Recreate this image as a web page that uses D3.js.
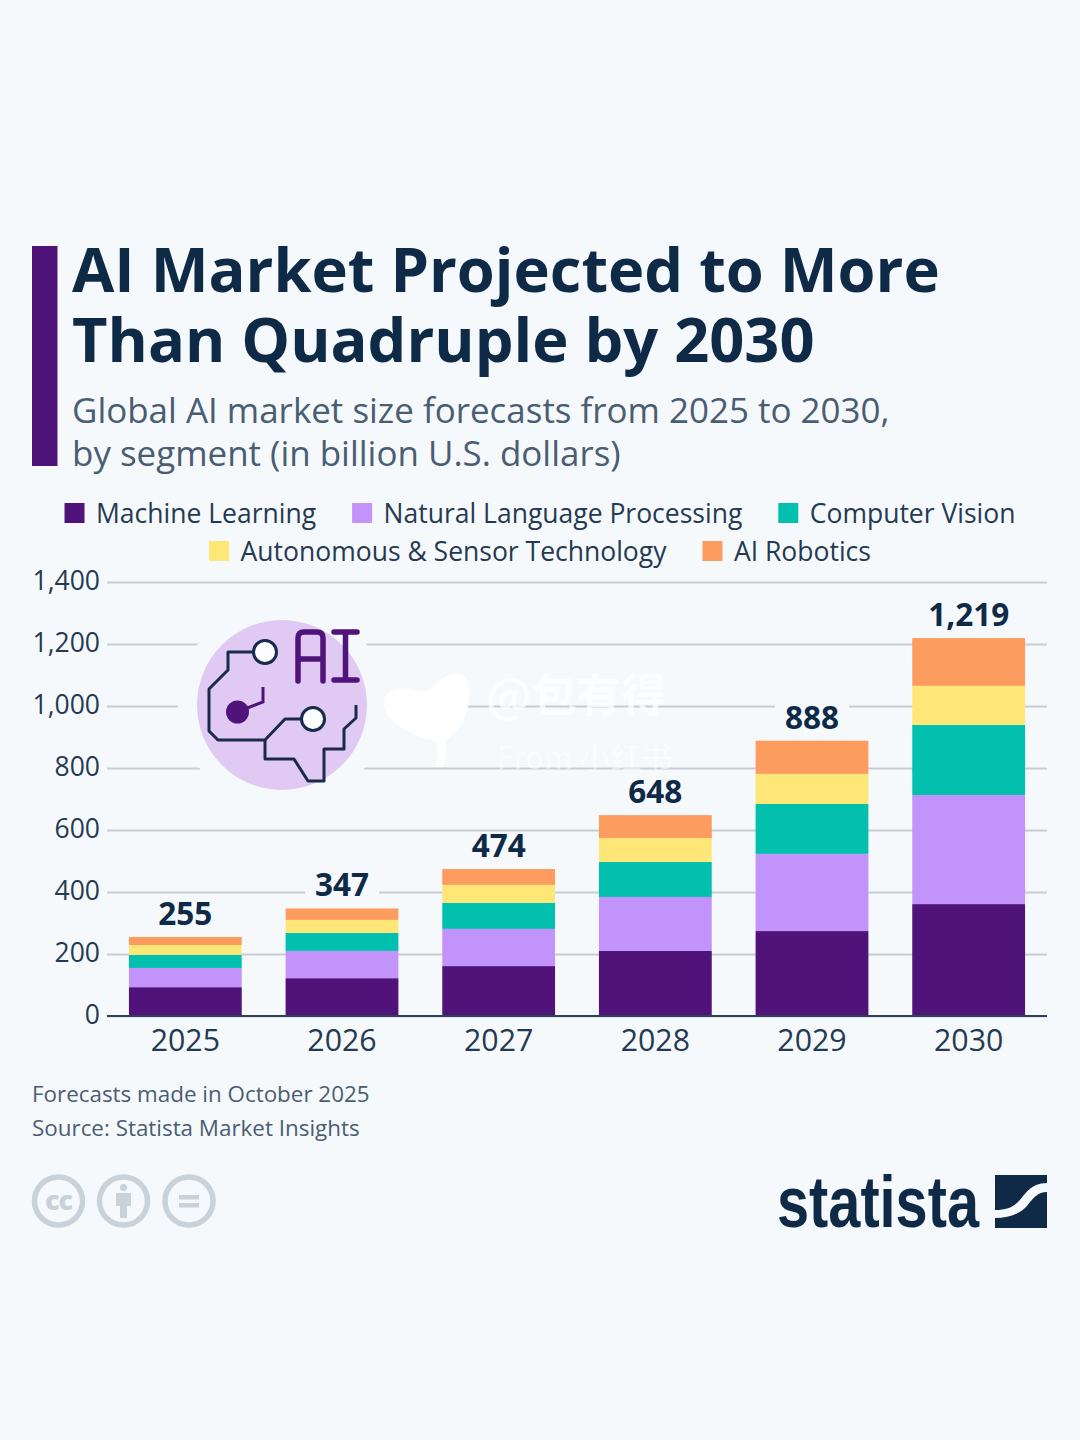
<!DOCTYPE html>
<html lang="en">
<head>
<meta charset="utf-8">
<title>AI Market Projected to More Than Quadruple by 2030</title>
<script src="https://cdn.jsdelivr.net/npm/d3@7/dist/d3.min.js"></script>
<style>
  html, body { margin: 0; padding: 0; background: #f5f9fc; }
  svg { display: block; font-family: "Open Sans", sans-serif; }
</style>
</head>
<body>
<svg id="chart" width="1080" height="1440"></svg>
<script>
// Forecast values in billion U.S. dollars, one list per segment
const years = ["2025", "2026", "2027", "2028", "2029", "2030"];
const machineLearning = [93, 122, 161, 210, 274, 361];
const naturalLanguage = [62, 88, 120, 174, 249, 352];
const computerVision = [42, 58, 84, 113, 161, 226];
const autonomousSensor = [32, 42, 58, 77, 97, 126];
const aiRobotics = [26, 37, 51, 74, 107, 154];
const totals = [255, 347, 474, 648, 888, 1219];
const segmentNames = ["Machine Learning", "Natural Language Processing", "Computer Vision", "Autonomous & Sensor Technology", "AI Robotics"];
const segmentColors = ["#4f1379", "#c193fb", "#03bfae", "#fee777", "#fd9c5f"];
const yTicks = [0, 200, 400, 600, 800, 1000, 1200, 1400];
const legendRows = [[0, 1, 2], [3, 4]];
const titleLines = ["AI Market Projected to More", "Than Quadruple by 2030"];
const subtitleLines = ["Global AI market size forecasts from 2025 to 2030,", "by segment (in billion U.S. dollars)"];
const noteLines = ["Forecasts made in October 2025", "Source: Statista Market Insights"];

const BG = "#f5f9fc", NAVY = "#0f2a47", SLATE = "#4a5d73", INK = "#253a52", GRID = "#c5cdd3", PURPLE = "#4f1379", MUTED = "#c9d2d9";

const svg = d3.select("#chart");
svg.append("rect").attr("width", 1080).attr("height", 1440).attr("fill", BG);

// Header
svg.append("rect").attr("x", 32).attr("y", 246).attr("width", 25.5).attr("height", 220).attr("fill", PURPLE);
svg.append("g").selectAll("text").data(titleLines).join("text")
  .attr("x", 72).attr("y", (d, i) => 292 + i * 70)
  .attr("font-size", 61.4).attr("font-weight", 700).attr("fill", NAVY).text(d => d);
svg.append("g").selectAll("text").data(subtitleLines).join("text")
  .attr("x", 72).attr("y", (d, i) => 423 + i * 43)
  .attr("font-size", 34.95).attr("fill", SLATE).text(d => d);

// Legend, each row centred on its measured width
const legend = svg.append("g");
legendRows.forEach((row, r) => {
  const g = legend.append("g");
  let x = 0;
  row.forEach(k => {
    g.append("rect").attr("x", x).attr("y", 503 + r * 38).attr("width", 20).attr("height", 20).attr("fill", segmentColors[k]);
    const t = g.append("text").attr("x", x + 31.5).attr("y", 523 + r * 38)
      .attr("font-size", 26.5).attr("fill", INK).text(segmentNames[k]);
    x += 31.5 + t.node().getComputedTextLength() + 36;
  });
  g.attr("transform", `translate(${(1080 - (x - 36)) / 2},0)`);
});

// Scales
const x = d3.scaleBand().domain(years).range([107, 1047]).paddingInner(0.28).paddingOuter(0.14);
const y = d3.scaleLinear().domain([0, 1400]).range([1016, 582]);

// Gridlines
const gridAxis = svg.append("g").attr("transform", "translate(107,0)")
  .call(d3.axisRight(y).tickValues(yTicks).tickSize(940).tickFormat(""));
gridAxis.select(".domain").remove();
gridAxis.selectAll("line").attr("stroke", GRID).attr("stroke-width", 1.8);

// Y axis labels
const yAxis = svg.append("g").attr("transform", "translate(100,-1)")
  .call(d3.axisLeft(y).tickValues(yTicks).tickSize(0).tickPadding(0).tickFormat(d3.format(",")));
yAxis.select(".domain").remove();
yAxis.selectAll("text").attr("font-family", "Open Sans").attr("font-size", 26.5).attr("fill", INK);

// Illustration: brain circuit badge
const icon = svg.append("g");
icon.append("circle").attr("cx", 282).attr("cy", 705).attr("r", 104).attr("fill", BG);
icon.append("circle").attr("cx", 282).attr("cy", 705).attr("r", 85).attr("fill", "#e0caf3");
const circuit = icon.append("g").attr("fill", "none").attr("stroke", "#1a2a4a").attr("stroke-width", 3).attr("stroke-linejoin", "round");
circuit.append("path").attr("d", "M253 652H228V670L209 689V731L218 740H265L285 719H301");
circuit.append("path").attr("d", "M265 740V759H294L308 781H324V749H344V729L356 718V705");
const letters = icon.append("g").attr("fill", "none").attr("stroke", PURPLE).attr("stroke-width", 5.5).attr("stroke-linecap", "round").attr("stroke-linejoin", "round");
letters.append("path").attr("d", "M298 681V638Q298 632 304 632H317Q323 632 323 638V681M298 659H323");
letters.append("path").attr("d", "M334 632H357M334 680H357M345.5 632V680");
icon.append("path").attr("d", "M237 712L263 702V687").attr("fill", "none").attr("stroke", PURPLE).attr("stroke-width", 3);
icon.append("circle").attr("cx", 237.5).attr("cy", 712).attr("r", 11.5).attr("fill", PURPLE);
icon.selectAll(null).data([[265, 652], [313, 719]]).join("circle")
  .attr("cx", d => d[0]).attr("cy", d => d[1]).attr("r", 11.5)
  .attr("fill", "#fbfdfe").attr("stroke", "#1a2a4a").attr("stroke-width", 3);

// Stacked bars
const rows = years.map((year, i) => ({
  year,
  ml: machineLearning[i], nlp: naturalLanguage[i], cv: computerVision[i], as: autonomousSensor[i], rob: aiRobotics[i]
}));
const stacked = d3.stack().keys(["ml", "nlp", "cv", "as", "rob"])(rows);
const bars = svg.append("g");
stacked.forEach((layer, k) => {
  bars.append("g").attr("fill", segmentColors[k]).selectAll("rect").data(layer).join("rect")
    .attr("x", d => x(d.data.year)).attr("width", x.bandwidth())
    .attr("y", d => y(d[1])).attr("height", d => y(d[0]) - y(d[1]));
});

// Totals above the bars, each on a plate as tall as its digits that interrupts the gridlines
const totalGroup = svg.append("g");
years.forEach((year, i) => {
  const g = totalGroup.append("g");
  const cx = x(year) + x.bandwidth() / 2;
  const baseline = y(totals[i]) - 12;
  const t = g.append("text").attr("x", cx).attr("y", baseline).attr("text-anchor", "middle")
    .attr("font-size", 31.5).attr("font-weight", 700).attr("fill", NAVY).text(d3.format(",")(totals[i]));
  const w = t.node().getComputedTextLength();
  g.insert("rect", "text").attr("x", cx - w / 2 - 10).attr("y", baseline - 24).attr("width", w + 20).attr("height", 26).attr("fill", BG);
});

// Baseline and year labels
const xAxis = svg.append("g").attr("transform", "translate(0,1016)")
  .call(d3.axisBottom(x).tickSize(0).tickPadding(13));
xAxis.select(".domain").attr("d", "M107,0H1047").attr("stroke", "#2f4156").attr("stroke-width", 2);
xAxis.selectAll("text").attr("font-family", "Open Sans").attr("font-size", 30.3).attr("fill", INK);

// Faint sprout and handle laid across the plot
const mark = svg.append("g");
mark.append("path").attr("fill", "#ffffff")
  .attr("d", "M384 702C384 690 400 686 414 690C422 692 428 692 432 688C440 678 452 672 460 674C470 678 471 692 468 706C465 722 456 734 446 740C447 750 446 760 443 767H436C438 758 438 748 436 741C418 738 396 726 388 716C385 711 384 707 384 702Z");
mark.append("text").attr("x", 486).attr("y", 712).attr("font-family", "'Noto Sans CJK SC'").attr("font-size", 45).attr("font-weight", 700)
  .attr("fill", "#fff").attr("opacity", 0.75).text("@包有得");
mark.append("text").attr("x", 497).attr("y", 769).attr("font-family", "'Noto Sans CJK SC'").attr("font-size", 31)
  .attr("fill", "#fff").attr("opacity", 0.5).text("From 小红书");

// Notes
svg.append("g").selectAll("text").data(noteLines).join("text")
  .attr("x", 32).attr("y", (d, i) => 1102 + i * 34)
  .attr("font-size", 22.4).attr("fill", SLATE).text(d => d);

// Licence badges
const cc = svg.append("g");
cc.selectAll("circle").data([58.5, 123.5, 189]).join("circle")
  .attr("cx", d => d).attr("cy", 1201).attr("r", 24).attr("fill", "none").attr("stroke", MUTED).attr("stroke-width", 5.5);
cc.append("text").attr("x", 58.5).attr("y", 1210).attr("text-anchor", "middle").attr("font-size", 27).attr("font-weight", 800)
  .attr("letter-spacing", -1).attr("fill", MUTED).text("cc");
cc.append("circle").attr("cx", 123.5).attr("cy", 1187.5).attr("r", 3.6).attr("fill", MUTED);
cc.append("path").attr("fill", MUTED).attr("d", "M116 1193H131V1206H127V1218H120V1206H116Z");
cc.append("rect").attr("x", 179).attr("y", 1195).attr("width", 20).attr("height", 4.5).attr("fill", MUTED);
cc.append("rect").attr("x", 179).attr("y", 1203).attr("width", 20).attr("height", 4.5).attr("fill", MUTED);

// Wordmark
svg.append("text").attr("x", 777).attr("y", 1227)
  .attr("font-family", "'Liberation Sans Narrow', 'Liberation Sans'").attr("font-size", 72).attr("font-weight", 700)
  .attr("textLength", 202).attr("lengthAdjust", "spacingAndGlyphs").attr("fill", NAVY).text("statista");
svg.append("path").attr("fill", NAVY).attr("d", "M995 1175H1047V1183C1030 1183 1025 1195 1018 1202C1012 1208 1005 1210 995 1210Z");
svg.append("path").attr("fill", NAVY).attr("d", "M1047 1192C1038 1192 1033 1198 1027 1206C1020 1214 1008 1218 995 1218V1228H1047Z");
</script>
</body>
</html>
